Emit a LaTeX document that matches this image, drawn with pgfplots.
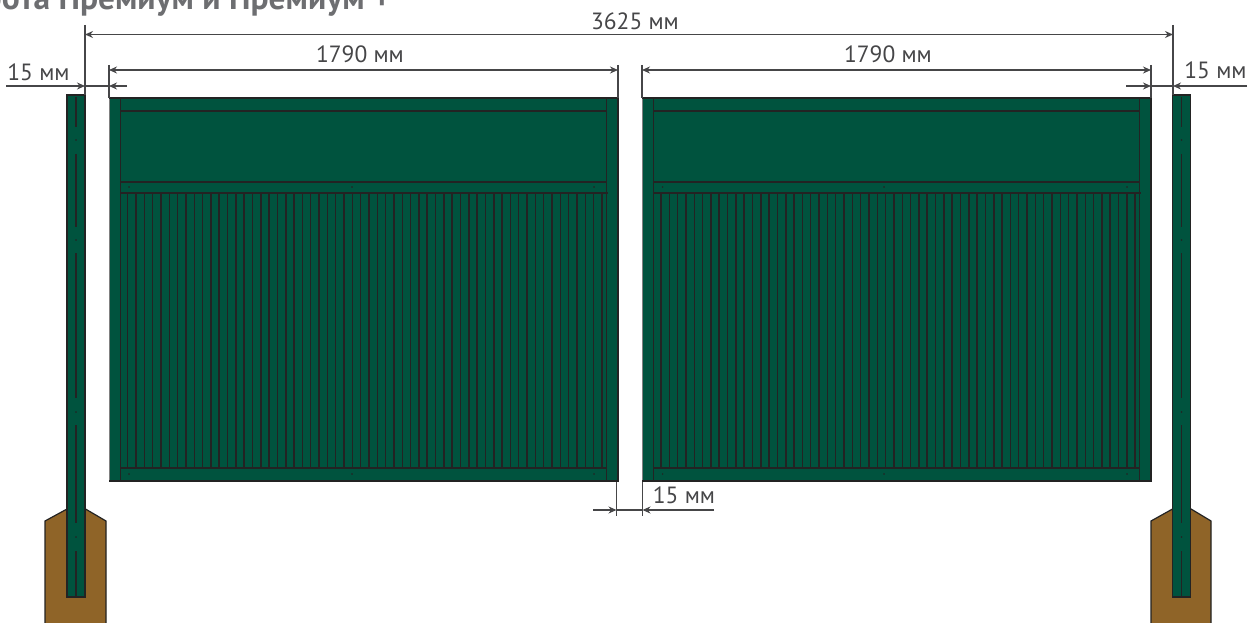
\documentclass[border=0pt]{standalone}
\usepackage{fontspec}
\setmainfont{PT Sans}
\usepackage{pgfplots}
\usepackage{pgfplotstable}
\pgfplotsset{compat=1.18}
\usetikzlibrary{arrows.meta}
\definecolor{leaf}{RGB}{0,83,62}
\definecolor{soil}{RGB}{143,100,40}
\definecolor{ink}{RGB}{35,35,35}
\definecolor{dim}{RGB}{70,70,72}
\definecolor{head}{RGB}{109,110,113}

% picket lines, x and top y; every one hangs 275 px down to the bottom rail
\pgfplotstableread[row sep=\\]{x y\\
127.7 193\\ 136.0 193\\ 144.3 193\\ 152.7 193\\ 161.0 193\\ 169.3 193\\ 177.6 193\\ 186.0 193\\ 194.3 193\\ 202.6 193\\
210.9 193\\ 219.2 193\\ 227.5 193\\ 235.9 193\\ 244.2 193\\ 252.5 193\\ 260.8 193\\ 269.1 193\\ 277.5 193\\ 285.8 193\\
294.1 193\\ 302.4 193\\ 310.7 193\\ 319.1 193\\ 327.4 193\\ 335.7 193\\ 344.0 193\\ 352.3 193\\ 360.7 193\\ 369.0 193\\
377.3 193\\ 385.6 193\\ 393.9 193\\ 402.3 193\\ 410.6 193\\ 418.9 193\\ 427.2 193\\ 435.5 193\\ 443.9 193\\ 452.2 193\\
460.5 193\\ 468.8 193\\ 477.1 193\\ 485.5 193\\ 493.8 193\\ 502.1 193\\ 510.4 193\\ 518.7 193\\ 527.1 193\\ 535.4 193\\
543.7 193\\ 552.0 193\\ 560.3 193\\ 568.7 193\\ 577.0 193\\ 585.3 193\\ 593.6 193\\ 601.9 193\\
661.0 193\\ 669.3 193\\ 677.6 193\\ 686.0 193\\ 694.3 193\\ 702.6 193\\ 710.9 193\\ 719.2 193\\ 727.5 193\\ 735.9 193\\
744.2 193\\ 752.5 193\\ 760.8 193\\ 769.1 193\\ 777.5 193\\ 785.8 193\\ 794.1 193\\ 802.4 193\\ 810.7 193\\ 819.1 193\\
827.4 193\\ 835.7 193\\ 844.0 193\\ 852.3 193\\ 860.7 193\\ 869.0 193\\ 877.3 193\\ 885.6 193\\ 893.9 193\\ 902.3 193\\
910.6 193\\ 918.9 193\\ 927.2 193\\ 935.5 193\\ 943.9 193\\ 952.2 193\\ 960.5 193\\ 968.8 193\\ 977.1 193\\ 985.5 193\\
993.8 193\\ 1002.1 193\\ 1010.4 193\\ 1018.7 193\\ 1027.1 193\\ 1035.4 193\\ 1043.7 193\\ 1052.0 193\\ 1060.3 193\\ 1068.7 193\\
1077.0 193\\ 1085.3 193\\ 1093.6 193\\ 1101.9 193\\ 1110.2 193\\ 1118.6 193\\ 1126.9 193\\ 1135.2 193\\
}\pickets

\tikzset{dimarrow/.style={dim,line width=1.3pt},
  dimtip/.style={dim,line width=1.3pt,-{Stealth[length=8pt,width=7pt]}},
  both/.style={dim,line width=1.3pt,{Stealth[length=8pt,width=7pt]}-{Stealth[length=8pt,width=7pt]}},
  lab/.style={text=dim,font=\fontsize{23.5}{24}\selectfont,inner sep=0pt,anchor=base}}

\begin{document}
\begin{tikzpicture}
\useasboundingbox (0,0) rectangle (1248pt,623pt);
\begin{axis}[
    scale only axis,
    width=1248pt,
    height=623pt,
    xmin=0,xmax=1248,
    ymin=0,ymax=623,
    y dir=reverse,
    hide axis,
    clip=false,
    unbounded coords=jump,
]
% footings
\addplot[fill=soil,draw=ink,line width=1.2pt] coordinates {(45,623)(45,521)(67,509)(85.5,509)(106,521)(106,623)};
\addplot[fill=soil,draw=ink,line width=1.2pt] coordinates {(1151,623)(1151,521)(1172.5,509)(1191,509)(1211,521)(1211,623)};
% posts
\addplot[fill=leaf,draw=ink,line width=1.2pt] coordinates {(67,95)(85,95)(85,597)(67,597)} --cycle;
\addplot[fill=leaf,draw=ink,line width=1.2pt] coordinates {(1172.5,95)(1190.5,95)(1190.5,597)(1172.5,597)} --cycle;
\addplot[ink,line width=1.4pt] coordinates {
  (76,97)(76,127)(76,nan)(76,154)(76,227)(76,nan)(76,253)(76,398)(76,nan)(76,425)(76,523)(76,nan)(76,551)(76,598)(76,nan)
  (1181.5,97)(1181.5,127)(1181.5,nan)(1181.5,154)(1181.5,227)(1181.5,nan)(1181.5,253)(1181.5,398)(1181.5,nan)(1181.5,425)(1181.5,523)(1181.5,nan)(1181.5,551)(1181.5,598)
};
% leaves
\addplot[fill=leaf,draw=none] coordinates {(109,98)(618,98)(618,481)(109,481)} --cycle;
\addplot[fill=leaf,draw=none] coordinates {(642,98)(1151,98)(1151,481)(642,481)} --cycle;
\addplot[gray,line width=1pt] coordinates {(109,98)(109,481)(109,nan)(642,98)(642,481)};
\addplot[ink,line width=1.3pt] coordinates {
  (109,98)(618,98)(618,481)(109,481)(109,nan)
  (120.5,98)(120.5,481)(120.5,nan)(606.5,98)(606.5,481)(606.5,nan)
  (120.5,111)(606.5,111)(606.5,nan)(120.5,182)(606.5,182)(606.5,nan)(120.5,193)(608,193)(608,nan)(120.5,468)(606.5,468)(606.5,nan)
  (642,98)(1151,98)(1151,481)(642,481)(642,nan)
  (653.5,98)(653.5,481)(653.5,nan)(1139.5,98)(1139.5,481)(1139.5,nan)
  (653.5,111)(1139.5,111)(1139.5,nan)(653.5,182)(1139.5,182)(1139.5,nan)(653.5,193)(1141,193)(1141,nan)(653.5,468)(1139.5,468)
};
\addplot[draw=none,mark=none,forget plot,error bars/.cd,y dir=plus,y fixed=275,error mark=none,
  error bar style={draw=ink,line width=1.5pt}] table[x=x,y=y] {\pickets};
% fixing points
\addplot[only marks,mark=*,mark size=0.5pt,ink] coordinates {
  (76,140)(76,240)(76,412)(76,537)(1181.5,140)(1181.5,240)(1181.5,412)(1181.5,537)
  (129,187)(352,187)(594,187)(129,474)(352,474)(594,474)
  (662.7,187)(884,187)(1127,187)(662.7,474)(884,474)(1127,474)};
% dimension lines
\addplot[dim,line width=1.2pt] coordinates {
  (85,25)(85,95)(85,nan)(1173,25)(1173,95)(1173,nan)
  (109,65)(109,98)(109,nan)(618,65)(618,98)(618,nan)
  (642,65)(642,98)(642,nan)(1151,65)(1151,98)(1151,nan)
  (616.5,482)(616.5,516)(616.5,nan)(642.5,482)(642.5,516)
};
\addplot[both] coordinates {(85,34.5)(1173,34.5)};
\addplot[both] coordinates {(109,70)(618,70)};
\addplot[both] coordinates {(642,70)(1151,70)};
\addplot[dimtip] coordinates {(6,86)(85,86)};
\addplot[dimtip] coordinates {(127,86)(109,86)};
\addplot[dimarrow] coordinates {(85,86)(109,86)};
\addplot[dimtip] coordinates {(1126,86)(1151,86)};
\addplot[dimtip] coordinates {(1247,86)(1173,86)};
\addplot[dimarrow] coordinates {(1151,86)(1173,86)};
\addplot[dimtip] coordinates {(593,510)(616.5,510)};
\addplot[dimtip] coordinates {(714,510)(642.5,510)};
\addplot[dimarrow] coordinates {(616.5,510)(642.5,510)};
% labels
\node[lab] at (axis cs:635,30) {3625 мм};
\node[lab] at (axis cs:360,63) {1790 мм};
\node[lab] at (axis cs:888,63) {1790 мм};
\node[lab] at (axis cs:38.5,81) {15 мм};
\node[lab] at (axis cs:1215.5,79) {15 мм};
\node[lab] at (axis cs:684,503) {15 мм};
\node[text=head,font=\fontsize{33.5}{34}\selectfont\bfseries,inner sep=0pt,anchor=base east] at (axis cs:391,9.5) {Ворота Премиум и Премиум +};
\end{axis}
\end{tikzpicture}
\end{document}
